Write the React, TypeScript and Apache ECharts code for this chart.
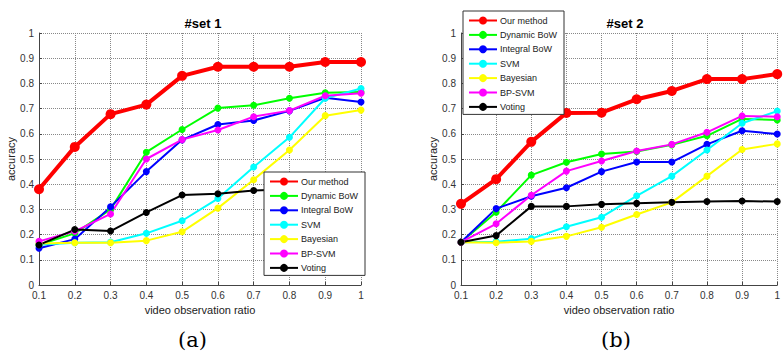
import React, { useEffect, useRef } from 'react';
import * as echarts from 'echarts';

const xLabels = ['0.1', '0.2', '0.3', '0.4', '0.5', '0.6', '0.7', '0.8', '0.9', '1'];
const seriesNames = ['Our method', 'Dynamic BoW', 'Integral BoW', 'SVM', 'Bayesian', 'BP-SVM', 'Voting'];
const seriesColors = ['#ff0000', '#00ff00', '#0000ff', '#00ffff', '#ffff00', '#ff00ff', '#000000'];
const titles = ['#set 1', '#set 2'];
const panelLabels = ['(a)', '(b)'];

// set 1
const ours1 = [0.38, 0.548, 0.678, 0.716, 0.83, 0.866, 0.866, 0.866, 0.885, 0.885];
const dyn1 = [0.16, 0.205, 0.3, 0.527, 0.617, 0.702, 0.713, 0.741, 0.763, 0.766];
const int1 = [0.146, 0.182, 0.31, 0.45, 0.576, 0.637, 0.653, 0.691, 0.743, 0.726];
const svm1 = [0.16, 0.168, 0.17, 0.205, 0.255, 0.343, 0.468, 0.586, 0.741, 0.78];
const bay1 = [0.165, 0.168, 0.168, 0.176, 0.211, 0.305, 0.418, 0.536, 0.672, 0.694];
const bp1 = [0.173, 0.213, 0.282, 0.5, 0.577, 0.615, 0.668, 0.692, 0.751, 0.761];
const vot1 = [0.159, 0.22, 0.214, 0.288, 0.357, 0.362, 0.375, 0.38, 0.385, 0.39];

// set 2
const ours2 = [0.322, 0.42, 0.568, 0.683, 0.684, 0.737, 0.77, 0.817, 0.817, 0.837];
const dyn2 = [0.17, 0.289, 0.436, 0.487, 0.52, 0.53, 0.556, 0.592, 0.659, 0.655];
const int2 = [0.17, 0.303, 0.352, 0.386, 0.45, 0.488, 0.488, 0.558, 0.612, 0.599];
const svm2 = [0.17, 0.172, 0.184, 0.231, 0.269, 0.354, 0.432, 0.536, 0.642, 0.69];
const bay2 = [0.17, 0.168, 0.173, 0.193, 0.229, 0.28, 0.328, 0.432, 0.538, 0.56];
const bp2 = [0.17, 0.243, 0.356, 0.452, 0.492, 0.532, 0.558, 0.606, 0.671, 0.668];
const vot2 = [0.17, 0.196, 0.312, 0.312, 0.32, 0.324, 0.328, 0.331, 0.333, 0.331];

const sets = [
  [ours1, dyn1, int1, svm1, bay1, bp1, vot1],
  [ours2, dyn2, int2, svm2, bay2, bp2, vot2],
];

const FONT = '"Liberation Sans", Arial, sans-serif';

export default function App() {
  const ref = useRef<HTMLDivElement>(null);
  useEffect(() => {
    if (!ref.current) return;
    const chart = echarts.init(ref.current, undefined, { renderer: 'svg' });
    const gridLefts = [39, 461];
    const series: any[] = [];
    sets.forEach((set, g) => {
      set.forEach((data, i) => {
        series.push({
          type: 'line',
          name: seriesNames[i],
          xAxisIndex: g,
          yAxisIndex: g,
          data,
          symbol: 'circle',
          symbolSize: i === 0 ? 10 : 7,
          showSymbol: true,
          color: seriesColors[i],
          itemStyle: { color: seriesColors[i] },
          lineStyle: { color: seriesColors[i], width: i === 0 ? 4 : 2 },
        });
      });
    });
    const xAxes = gridLefts.map((_, g) => ({
      type: 'category',
      gridIndex: g,
      data: xLabels,
      boundaryGap: false,
      axisLine: { show: true, lineStyle: { color: '#444', width: 1 } },
      axisTick: { show: true, inside: true, length: 3, lineStyle: { color: '#444' } },
      axisLabel: { fontSize: 10, color: '#333', fontFamily: FONT, margin: 5 },
      splitLine: { show: true, lineStyle: { type: 'dotted', color: '#888', width: 1 } },
      name: 'video observation ratio',
      nameLocation: 'middle',
      nameGap: 17,
      nameTextStyle: { fontSize: 11, color: '#222', fontFamily: FONT },
    }));
    const yAxes = gridLefts.map((_, g) => ({
      type: 'value',
      gridIndex: g,
      min: 0,
      max: 1,
      interval: 0.1,
      axisLine: { show: true, lineStyle: { color: '#444', width: 1 } },
      axisTick: { show: true, inside: true, length: 3, lineStyle: { color: '#444' } },
      axisLabel: {
        fontSize: 10,
        color: '#333',
        fontFamily: FONT,
        margin: 5,
        formatter: (v: number) => String(Math.round(v * 10) / 10),
      },
      splitLine: { show: true, lineStyle: { type: 'dotted', color: '#888', width: 1 } },
      name: 'accuracy',
      nameLocation: 'middle',
      nameGap: 19,
      nameTextStyle: { fontSize: 11, color: '#222', fontFamily: FONT },
    }));
    const legendBase = {
      orient: 'vertical',
      selectedMode: false,
      data: seriesNames,
      itemWidth: 28,
      itemHeight: 10,
      itemGap: 5.4,
      padding: [5, 7, 3, 5],
      backgroundColor: '#ffffff',
      borderColor: '#333',
      borderWidth: 1,
      borderRadius: 0,
      textStyle: { fontSize: 9, color: '#222', fontFamily: FONT, padding: [0, 0, 0, -2] },
    };
    chart.setOption({
      animation: false,
      backgroundColor: '#ffffff',
      title: [
        { text: titles[0], left: 198, top: 12, textAlign: 'center', textStyle: { fontSize: 13, fontWeight: 'bold', color: '#000', fontFamily: FONT } },
        { text: titles[1], left: 620, top: 12, textAlign: 'center', textStyle: { fontSize: 13, fontWeight: 'bold', color: '#000', fontFamily: FONT } },
      ],
      legend: [
        { ...legendBase, left: 264, top: 172 },
        { ...legendBase, left: 463, top: 11 },
      ],
      grid: gridLefts.map((left) => ({ left, top: 33, width: 322, height: 252, containLabel: false })),
      xAxis: xAxes,
      yAxis: yAxes,
      series,
      graphic: [
        { type: 'text', left: 178, top: 329, style: { text: panelLabels[0], font: '21px "DejaVu Serif", serif', fill: '#000' } },
        { type: 'text', left: 601, top: 329, style: { text: panelLabels[1], font: '21px "DejaVu Serif", serif', fill: '#000' } },
      ],
    });
    return () => chart.dispose();
  }, []);
  return <div ref={ref} style={{ position: 'absolute', left: 0, top: 0, width: 783, height: 354 }} />;
}
